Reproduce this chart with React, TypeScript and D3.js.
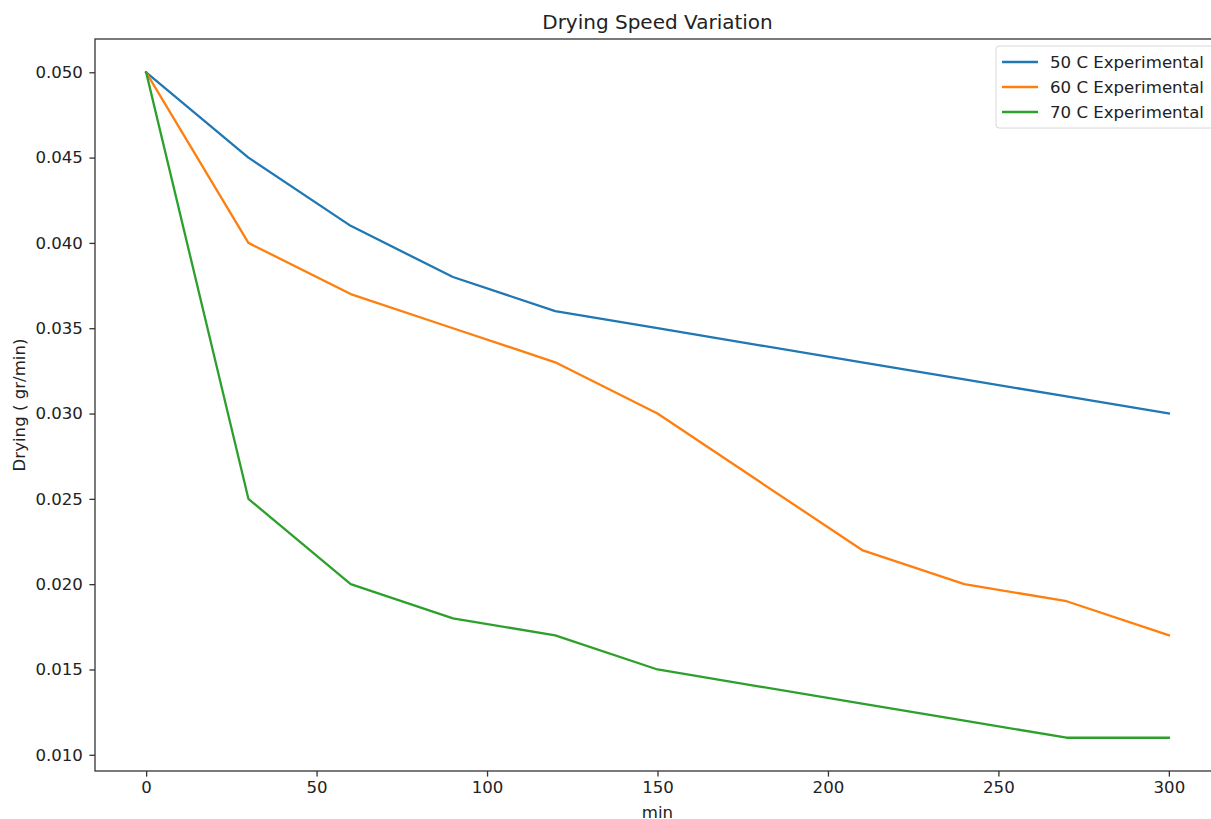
import React, { useEffect, useRef } from 'react';
import * as d3 from 'd3';

const minutes = [0, 30, 60, 90, 120, 150, 180, 210, 240, 270, 300];
const exp50 = [0.05, 0.045, 0.041, 0.038, 0.036, 0.035, 0.034, 0.033, 0.032, 0.031, 0.03];
const exp60 = [0.05, 0.04, 0.037, 0.035, 0.033, 0.03, 0.026, 0.022, 0.02, 0.019, 0.017];
const exp70 = [0.05, 0.025, 0.02, 0.018, 0.017, 0.015, 0.014, 0.013, 0.012, 0.011, 0.011];
const seriesNames = ['50 C Experimental', '60 C Experimental', '70 C Experimental'];
const colors = ['#1f77b4', '#ff7f0e', '#2ca02c'];
const xTicks = [0, 50, 100, 150, 200, 250, 300];
const yTicks = [0.01, 0.015, 0.02, 0.025, 0.03, 0.035, 0.04, 0.045, 0.05];

const App = () => {
    const svgRef = useRef<SVGSVGElement>(null);

    useEffect(() => {
        const svg = d3.select(svgRef.current);
        svg.selectAll('*').remove();
        const width = 1211;
        const height = 819;
        const left = 95, right = 1220, top = 39, bottom = 771;
        const font = 'DejaVu Sans, sans-serif';
        const fs = 16.6;

        const x = d3.scaleLinear().domain([-15, 315]).range([left, right]);
        const y = d3.scaleLinear().domain([0.00905, 0.05195]).range([bottom, top]);

        svg.attr('width', width).attr('height', height);
        svg.append('rect').attr('width', width).attr('height', height).attr('fill', '#fff');

        const all = [exp50, exp60, exp70];
        const line = d3.line<number>()
            .x((d, i) => x(minutes[i]))
            .y(d => y(d));

        all.forEach((s, i) => {
            svg.append('path')
                .datum(s)
                .attr('d', line)
                .attr('fill', 'none')
                .attr('stroke', colors[i])
                .attr('stroke-width', 2.3)
                .attr('stroke-linejoin', 'round')
                .attr('stroke-linecap', 'square');
        });

        // frame (right side falls outside the picture)
        svg.append('rect')
            .attr('x', left).attr('y', top)
            .attr('width', right - left).attr('height', bottom - top)
            .attr('fill', 'none').attr('stroke', '#333').attr('stroke-width', 1.3);

        const xAxis = svg.append('g').attr('transform', `translate(0,${bottom})`)
            .call(d3.axisBottom(x).tickValues(xTicks).tickSize(5.6).tickPadding(5).tickFormat(d3.format('d')));
        const yAxis = svg.append('g').attr('transform', `translate(${left},0)`)
            .call(d3.axisLeft(y).tickValues(yTicks).tickSize(5.6).tickPadding(6.5).tickFormat(d3.format('.3f')));
        [xAxis, yAxis].forEach(g => {
            g.select('.domain').remove();
            g.selectAll('line').attr('stroke', '#333').attr('stroke-width', 1.3);
            g.selectAll('text').attr('font-family', font).attr('font-size', fs).attr('fill', '#222');
        });

        svg.append('text')
            .attr('x', (left + right) / 2).attr('y', 29)
            .attr('text-anchor', 'middle')
            .attr('font-family', font).attr('font-size', 20).attr('fill', '#222')
            .text('Drying Speed Variation');

        svg.append('text')
            .attr('x', (left + right) / 2).attr('y', 818)
            .attr('text-anchor', 'middle')
            .attr('font-family', font).attr('font-size', fs).attr('fill', '#222')
            .text('min');

        svg.append('text')
            .attr('transform', `translate(25,${(top + bottom) / 2}) rotate(-90)`)
            .attr('text-anchor', 'middle')
            .attr('font-family', font).attr('font-size', fs).attr('fill', '#222')
            .text('Drying ( gr/min)');

        // legend
        const lg = svg.append('g');
        lg.append('rect')
            .attr('x', 996).attr('y', 46).attr('width', 224).attr('height', 82)
            .attr('rx', 3).attr('fill', '#fff').attr('stroke', '#d8d8d8');
        seriesNames.forEach((name, i) => {
            const yy = 62 + i * 25;
            lg.append('line')
                .attr('x1', 1002).attr('x2', 1038).attr('y1', yy).attr('y2', yy)
                .attr('stroke', colors[i]).attr('stroke-width', 2.3);
            lg.append('text')
                .attr('x', 1050).attr('y', yy + 6)
                .attr('font-family', font).attr('font-size', fs).attr('fill', '#222')
                .text(name);
        });
    }, []);

    return <svg ref={svgRef} style={{ position: 'absolute', left: 0, top: 0 }}></svg>;
};

export default App;
